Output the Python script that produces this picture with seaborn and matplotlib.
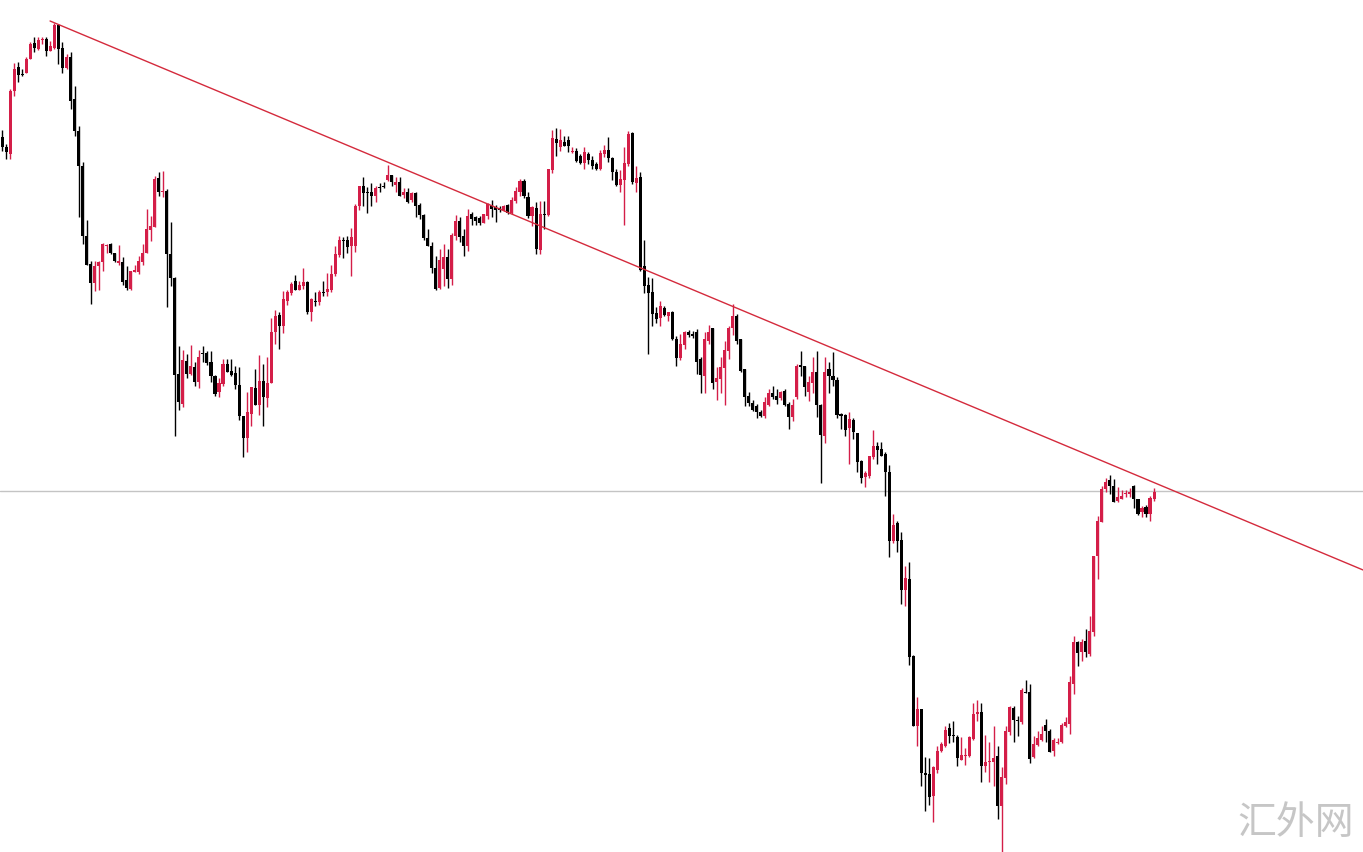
import numpy as np
import pandas as pd
import matplotlib
matplotlib.use("Agg")
import matplotlib.pyplot as plt
import seaborn as sns

# OHLC candle data (arbitrary price units)
opens = [715,705,698,761,785,778,779,793,809,803,812,813,801,804,827,804,784,795,753,721,
         686,616,588,569,586,590,606,608,599,589,590,572,563,580,580,590,599,622,625,674,
         660,661,598,574,478,448,491,478,485,470,499,499,490,476,460,468,488,481,479,467,
         436,414,438,464,447,471,454,469,520,537,526,551,559,571,562,566,570,540,551,550,
         560,560,562,578,597,612,612,606,606,646,666,660,660,656,665,666,672,677,667,670,
         657,660,652,659,647,637,614,606,584,564,583,595,573,616,631,616,606,638,635,634,
         629,636,647,645,644,642,647,639,651,660,671,655,636,644,602,638,637,682,713,705,
         710,712,700,701,696,689,698,692,688,683,698,702,694,680,667,672,688,719,669,675,
         586,567,560,539,534,544,536,540,513,494,507,520,518,520,493,476,511,524,470,473,
         484,501,524,536,513,483,456,449,446,440,436,447,459,456,454,461,448,435,455,487,
         486,460,469,480,447,416,483,476,472,438,437,424,432,419,391,375,376,395,406,403,
         398,380,311,329,312,262,273,196,126,143,79,78,56,82,101,106,124,117,115,92,
         96,96,113,138,140,86,90,90,96,46,74,120,144,132,130,160,160,95,107,112,
         127,121,101,109,110,126,128,168,210,200,211,198,220,296,330,363,372,366,351,353,
         358,358,366,353,340,345,338,353]
highs = [722,708,763,789,790,783,795,810,815,815,815,815,811,829,828,810,798,800,766,726,
         690,632,591,591,591,609,608,609,599,607,595,586,581,587,596,608,643,636,676,680,
         681,663,630,575,506,502,498,507,490,502,506,501,501,477,474,493,493,493,486,485,
         436,460,465,483,497,488,495,534,542,540,561,562,570,577,571,584,571,554,560,562,
         571,579,587,606,616,615,616,624,648,666,675,665,669,666,669,670,687,677,675,675,
         664,664,660,660,649,638,623,610,596,603,608,603,619,637,635,623,643,640,636,636,
         638,649,652,647,646,647,648,655,665,673,673,660,646,650,651,651,683,722,724,723,
         716,716,705,704,698,705,700,696,690,702,707,715,695,683,682,705,721,720,686,680,
         612,575,574,545,551,546,540,541,516,518,521,522,521,523,495,520,527,524,485,495,
         511,526,548,538,513,483,460,452,448,442,455,463,466,463,461,463,450,453,488,501,
         486,476,495,501,448,495,490,500,475,439,438,440,434,419,392,381,396,422,410,410,
         400,387,338,331,320,286,290,197,155,143,95,94,86,106,110,126,129,131,117,115,
         104,116,149,152,149,117,110,126,106,85,126,146,146,136,164,172,168,116,121,126,
         133,123,114,114,129,135,176,216,211,213,223,236,296,336,366,374,377,373,365,362,
         362,364,367,353,346,347,356,364]
lows = [701,693,693,756,770,776,779,793,800,802,808,796,801,803,788,779,783,743,716,635,
        608,587,548,561,562,581,599,598,590,587,567,562,562,580,578,587,599,611,625,656,
        655,545,566,416,442,445,474,477,466,464,490,487,470,456,455,466,480,476,463,432,
        395,400,426,447,437,426,445,469,508,503,519,547,557,562,562,563,538,531,546,547,
        556,556,560,576,595,594,599,576,600,642,646,639,646,650,660,664,671,666,660,656,
        654,649,650,635,633,612,606,579,562,563,566,564,567,612,610,596,601,627,627,627,
        629,633,635,630,640,641,638,638,649,656,654,634,626,598,598,623,636,679,696,701,
        706,700,699,690,688,683,688,683,682,682,695,690,672,666,660,627,686,668,660,581,
        559,498,526,529,526,536,531,512,486,492,503,515,514,478,459,459,508,463,452,459,
        447,493,517,508,480,446,446,441,434,435,434,446,453,448,452,446,423,431,453,476,
        456,451,459,435,369,409,459,466,434,423,416,388,413,380,369,365,374,393,388,396,
        356,295,309,300,248,246,187,126,106,66,41,47,30,79,100,105,109,110,86,92,
        87,95,112,131,70,80,70,66,33,0,68,117,110,116,128,159,89,94,106,111,
        110,100,96,108,109,125,118,158,186,191,195,196,216,273,330,360,358,350,350,353,
        355,355,344,337,335,335,331,351]
closes = [705,700,761,783,777,777,793,808,804,812,813,801,806,827,803,784,795,751,721,686,
          616,587,569,586,590,608,607,599,591,591,570,564,581,582,591,599,623,626,673,660,
          661,598,574,477,450,492,478,486,470,495,498,489,476,458,469,488,480,477,467,436,
          414,440,465,447,471,455,469,520,536,526,553,560,568,562,567,570,540,553,550,560,
          559,563,578,598,612,611,605,615,646,666,659,659,656,664,664,665,677,670,670,656,
          660,650,659,646,637,614,606,584,563,592,595,573,617,631,615,606,636,633,631,629,
          638,648,643,642,642,646,639,652,661,671,656,636,645,603,638,637,683,714,709,712,
          706,706,701,691,689,700,692,686,683,699,702,694,680,667,673,689,718,670,674,582,
          566,559,538,533,546,537,540,513,494,508,520,517,516,490,477,513,520,469,474,485,
          502,524,536,511,481,455,449,442,440,436,450,459,455,452,460,447,435,447,486,485,
          465,470,480,447,417,480,476,472,437,436,422,433,420,390,374,379,396,406,402,396,
          380,311,327,311,262,274,195,126,143,79,77,55,85,101,108,122,116,116,94,97,
          97,115,138,140,86,90,91,94,46,75,121,145,132,131,162,159,93,108,114,118,
          121,100,112,110,127,130,170,210,199,210,200,221,296,331,363,370,366,350,355,356,
          359,360,353,338,344,338,354,360]

# Analysis lines: descending trend line anchors (candle index, price) and a horizontal level
trend_idx = [11.9, 339.1]
trend_price = [831, 282]
hline_price = 361
watermark = "汇外网"

df = pd.DataFrame({"open": opens, "high": highs, "low": lows, "close": closes})
df["idx"] = np.arange(len(df))
df["up"] = df["close"] >= df["open"]

UP_COLOR = "#d41e48"
DOWN_COLOR = "#000000"

sns.set_theme(style="white")
plt.rcParams["font.family"] = ["Noto Sans CJK SC", "DejaVu Sans"]

fig = plt.figure(figsize=(13.63, 8.53), dpi=100)
ax = fig.add_axes([0, 0, 1, 1])
ax.set_facecolor("white")

step = 4.013  # pixel spacing per candle
first_px = 2.3
ax.set_xlim(-first_px / step, (1363 - first_px) / step)
ax.set_ylim(0, 853)

# horizontal level
ax.axhline(hline_price, color="#c4c4c4", lw=1.0, zorder=1)

colors = np.where(df["up"], UP_COLOR, DOWN_COLOR)
# wicks
ax.vlines(df["idx"], df["low"], df["high"], colors=colors, lw=1.0, zorder=2)
# bodies
body_bottom = np.minimum(df["open"], df["close"])
body_h = np.maximum(np.abs(df["close"] - df["open"]), 1.2)
ax.bar(df["idx"], body_h, bottom=body_bottom, width=0.76, color=colors,
       edgecolor=colors, linewidth=0, zorder=3)

# trend line
tl = pd.DataFrame({"idx": trend_idx, "price": trend_price})
sns.lineplot(data=tl, x="idx", y="price", ax=ax, color="#d42a3c", lw=1.0, zorder=4)

ax.set_axis_off()

fig.text(1296 / 1363, 1 - 823 / 853, watermark, ha="center", va="center",
         fontsize=28, color="#c6c6c6", fontweight="light",
         family=["Noto Sans CJK SC", "DejaVu Sans"])

fig.savefig("out.png", dpi=100, facecolor="white")
